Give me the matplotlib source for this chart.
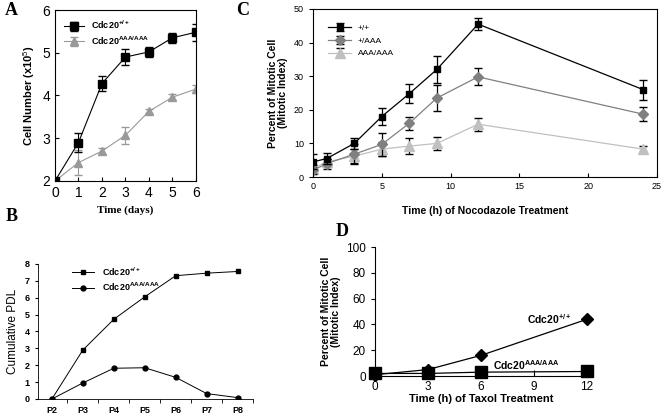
import matplotlib
matplotlib.use('Agg')
import matplotlib.pyplot as plt
from matplotlib.ticker import FixedLocator

plt.rcParams['font.family'] = ['Liberation Sans', 'DejaVu Sans']
plt.rcParams['mathtext.fontset'] = 'custom'
plt.rcParams['mathtext.rm'] = 'Liberation Sans'
plt.rcParams['mathtext.bf'] = 'Liberation Sans:bold'

# Panel A: cell number
days = [0, 1, 2, 3, 4, 5, 6]
a_wt = [2.0, 2.9, 4.28, 4.9, 5.02, 5.35, 5.48]
a_wt_err = [0.02, 0.22, 0.17, 0.18, 0.12, 0.12, 0.2]
a_aaa = [2.0, 2.43, 2.7, 3.07, 3.63, 3.96, 4.15]
a_aaa_err = [0.02, 0.3, 0.08, 0.2, 0.05, 0.07, 0.1]

# Panel B: cumulative PDL
passages = ['P2', 'P3', 'P4', 'P5', 'P6', 'P7', 'P8']
b_wt = [0, 2.9, 4.72, 6.05, 7.3, 7.45, 7.55]
b_aaa = [0, 0.95, 1.82, 1.85, 1.28, 0.32, 0.08]

# Panel C: nocodazole mitotic index
c_time = [0, 1, 3, 5, 7, 9, 12, 24]
c_wt = [4.5, 5.5, 10, 18, 24.8, 32, 45.5, 26]
c_wt_err = [2.2, 1.5, 1.7, 2.5, 2.8, 4, 1.8, 3]
c_het = [2, 4, 6.8, 9.7, 16, 23.5, 29.8, 18.7]
c_het_err = [1, 1.5, 3, 3.5, 2, 3.8, 2.5, 2]
c_aaa = [2.5, 4.5, 6.2, 8.3, 9.2, 10, 15.7, 8.3]
c_aaa_err = [1, 1, 2, 2, 2.5, 2, 2, 1]

# Panel D: taxol mitotic index
d_time = [0, 3, 6, 12]
d_wt = [1, 5, 16, 44]
d_aaa = [2, 2, 3, 3.5]

fig = plt.figure(figsize=(6.64, 4.17), dpi=100)

# ---- A ----
axA = fig.add_axes([0.0828, 0.566, 0.2123, 0.410])
axA.errorbar(days, a_wt, yerr=a_wt_err, color='black', marker='s', ms=6,
             lw=0.8, capsize=3, elinewidth=0.8, label=r'Cdc20$^{\mathbf{+/+}}$', zorder=3)
axA.errorbar(days, a_aaa, yerr=a_aaa_err, color='#999999', marker='^', ms=6,
             lw=0.8, capsize=3, elinewidth=0.8, label=r'Cdc20$^{\mathbf{AAA/AAA}}$')
axA.set_xlim(0, 6)
axA.set_ylim(2, 6)
axA.set_xticks(days)
axA.set_yticks([2, 3, 4, 5, 6])
axA.tick_params(direction='in', labelsize=10, length=3)
axA.set_ylabel(r'Cell Number (x10$^5$)', fontsize=8, fontweight='bold')
axA.set_xlabel('Time (days)', fontsize=8, fontweight='bold', family='Liberation Serif')
leg = axA.legend(loc='upper left', fontsize=6.5, frameon=False, handlelength=2.2,
                 borderaxespad=0.6, labelspacing=0.3)
for t in leg.get_texts():
    t.set_fontweight('bold')
fig.text(0.008, 0.965, 'A', fontsize=13, fontweight='bold', family='Liberation Serif')

# ---- C ----
axC = fig.add_axes([0.4714, 0.5755, 0.518, 0.403])
axC.errorbar(c_time, c_wt, yerr=c_wt_err, color='black', marker='s', ms=5,
             lw=0.9, capsize=3, elinewidth=0.9, label='+/+', zorder=3)
axC.errorbar(c_time, c_het, yerr=c_het_err, color='#808080', marker='D', ms=5,
             lw=0.9, capsize=3, elinewidth=0.9, label='+/AAA', ecolor='black', zorder=2)
axC.errorbar(c_time, c_aaa, yerr=c_aaa_err, color='#c0c0c0', marker='^', ms=7,
             lw=0.9, capsize=3, elinewidth=0.9, label='AAA/AAA', ecolor='black', zorder=1)
axC.set_xlim(0, 25)
axC.set_ylim(0, 50)
axC.set_xticks([0, 5, 10, 15, 20, 25])
axC.set_yticks([0, 10, 20, 30, 40, 50])
axC.tick_params(axis='y', direction='out', labelsize=6.5, length=3)
axC.tick_params(axis='x', direction='in', labelsize=6.5, length=3)
axC.set_ylabel('Percent of Mitotic Cell\n(Mitotic Index)', fontsize=7.5, fontweight='bold',
               linespacing=1.0)
axC.set_xlabel('Time (h) of Nocodazole Treatment', fontsize=7.5, fontweight='bold', labelpad=11)
axC.legend(loc='upper left', fontsize=6, frameon=False, handlelength=2.8,
           borderaxespad=1.4, labelspacing=0.6)
fig.text(0.356, 0.963, 'C', fontsize=13, fontweight='bold', family='Liberation Serif')

# ---- B ----
axB = fig.add_axes([0.0572, 0.0432, 0.324, 0.324])
xb = list(range(len(passages)))
axB.plot(xb, b_wt, color='black', marker='s', ms=3, lw=0.7, label=r'Cdc20$^{\mathbf{+/+}}$')
axB.plot(xb, b_aaa, color='black', marker='o', ms=3.5, lw=0.7, label=r'Cdc20$^{\mathbf{AAA/AAA}}$')
axB.set_xlim(-0.45, 6.5)
axB.set_ylim(0, 8)
axB.set_yticks(range(9))
axB.set_xticks(xb)
axB.set_xticklabels(passages, fontsize=6.5, fontweight='bold')
axB.xaxis.set_minor_locator(FixedLocator([i - 0.5 for i in range(8)]))
axB.tick_params(axis='x', which='major', length=0, pad=5)
axB.tick_params(axis='x', which='minor', length=3, direction='out')
axB.tick_params(axis='y', labelsize=6.5, length=2.5, direction='out')
for t in axB.get_yticklabels():
    t.set_fontweight('bold')
axB.spines['top'].set_visible(False)
axB.spines['right'].set_visible(False)
axB.spines['left'].set_linewidth(0.6)
axB.spines['bottom'].set_linewidth(0.6)
axB.set_ylabel('Cumulative PDL', fontsize=8.5)
leg = axB.legend(loc='upper left', fontsize=6.5, frameon=False, handlelength=2.5,
                 bbox_to_anchor=(0.12, 1.05), labelspacing=0.3)
for t in leg.get_texts():
    t.set_fontweight('bold')
fig.text(0.008, 0.47, 'B', fontsize=13, fontweight='bold', family='Liberation Serif')

# ---- D ----
axD = fig.add_axes([0.5648, 0.0983, 0.319, 0.309])
axD.plot(d_time, d_wt, color='black', marker='D', ms=6.5, lw=0.9, clip_on=False, zorder=3)
axD.plot(d_time, d_aaa, color='black', marker='s', ms=8.5, lw=0.9, clip_on=False, zorder=3)
axD.set_xlim(0, 12)
axD.set_ylim(0, 100)
axD.set_xticks([0, 3, 6, 9, 12])
axD.set_yticks([0, 20, 40, 60, 80, 100])
axD.tick_params(axis='y', labelsize=8.5, direction='out', length=3)
axD.tick_params(axis='x', labelsize=8.5, direction='in', length=4)
axD.spines['top'].set_visible(False)
axD.spines['right'].set_visible(False)
axD.set_ylabel('Percent of Mitotic Cell\n(Mitotic Index)', fontsize=7.5, fontweight='bold',
               linespacing=1.0)
axD.set_xlabel('Time (h) of Taxol Treatment', fontsize=8, fontweight='bold', labelpad=1)
axD.text(8.6, 40, r'Cdc20$^{\mathbf{+/+}}$', fontsize=7.5, fontweight='bold')
axD.text(6.7, 5, r'Cdc20$^{\mathbf{AAA/AAA}}$', fontsize=7.5, fontweight='bold')
fig.text(0.505, 0.435, 'D', fontsize=13, fontweight='bold', family='Liberation Serif')

fig.savefig('out.png', dpi=100)
